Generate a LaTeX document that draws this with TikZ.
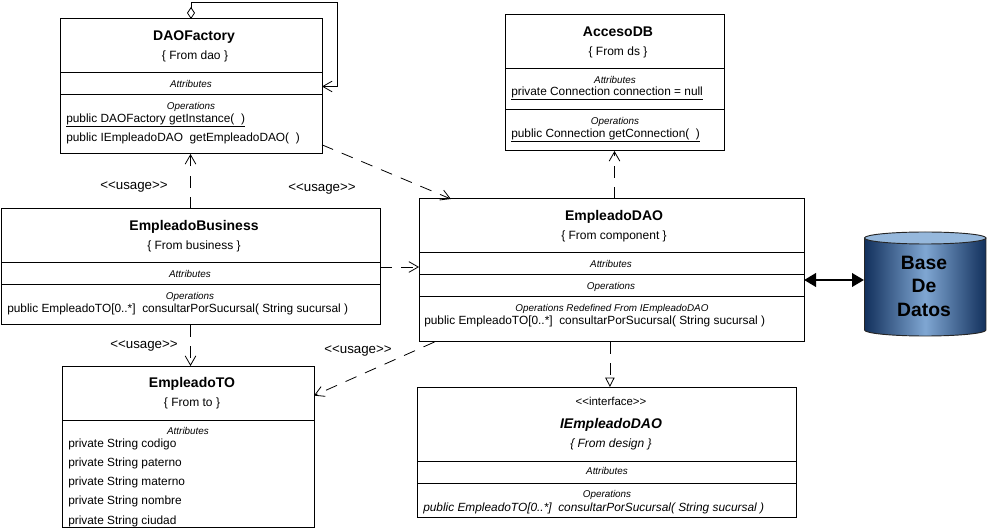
\documentclass[tikz,border=0pt]{standalone}
\usepackage{fontspec}
\setmainfont{Liberation Sans}
\usepackage{xcolor}
\usetikzlibrary{arrows.meta}
\definecolor{dbdark}{HTML}{12305C}
\definecolor{dbmid}{HTML}{7FA6D2}
\definecolor{dbtop}{HTML}{96B8DC}
\tikzset{
  umlbox/.style={draw,rectangle,line width=0.75pt,inner sep=0pt,outer sep=0pt},
  classname/.style={font=\fontsize{10.5}{12}\selectfont\bfseries,inner sep=0pt,text height=1.5ex,text depth=.25ex},
  classfrom/.style={font=\fontsize{9}{11}\selectfont,inner sep=0pt,text height=1.5ex,text depth=.25ex},
  sectionname/.style={font=\fontsize{7.4}{8}\selectfont\itshape,inner sep=0pt,text height=1.5ex,text depth=.25ex},
  member/.style={font=\fontsize{8.9}{10}\selectfont,anchor=west,inner sep=0pt,text height=1.5ex,text depth=.25ex},
  usagelabel/.style={font=\fontsize{10}{12}\selectfont,inner sep=0pt},
  dep/.style={line width=0.6pt,dash pattern=on 9pt off 7pt,-{Straight Barb[length=7pt,width=8pt]}},
  real/.style={line width=0.6pt,dash pattern=on 9pt off 7pt,-{Triangle[open,length=7pt,width=7pt]}}
}
\begin{document}
\begin{tikzpicture}[x=0.75pt,y=-0.75pt]
\useasboundingbox (0,0) rectangle (987,530);
% DAOFactory
\node[umlbox,minimum width=196.5pt,minimum height=101.25pt](daofactory) at (191,86.5){};
\draw[line width=0.75pt](daofactory.west |- 0,72.5)--(daofactory.east |- 0,72.5)
(daofactory.west |- 0,95)--(daofactory.east |- 0,95);
\node[classname](dftitle) at (194,36){DAOFactory};
\node[classfrom](dffrom) at (195,55){\{ From dao \}};
\node[sectionname](dfattr) at (191,83){Attributes};
\node[sectionname](dfops) at (191,105){Operations};
\node[member](dfget) at (66,118){\underline{public DAOFactory~getInstance(~~)}};
\node[member](dfemp) at (66,137){public IEmpleadoDAO~~getEmpleadoDAO(~~)};
% EmpleadoBusiness
\node[umlbox,minimum width=284.25pt,minimum height=87pt](empleadobusiness) at (190.5,267){};
\draw[line width=0.75pt](empleadobusiness.west |- 0,263)--(empleadobusiness.east |- 0,263)
(empleadobusiness.west |- 0,285)--(empleadobusiness.east |- 0,285);
\node[classname](ebtitle) at (194,226){EmpleadoBusiness};
\node[classfrom](ebfrom) at (194,245){\{ From business \}};
\node[sectionname](ebattr) at (190,273){Attributes};
\node[sectionname](ebops) at (190,295){Operations};
\node[member](ebcons) at (7,308){public EmpleadoTO[0..*]~~consultarPorSucursal( String sucursal )};
% EmpleadoTO
\node[umlbox,minimum width=189pt,minimum height=120.75pt](empleadoto) at (188,446.5){};
\draw[line width=0.75pt](empleadoto.west |- 0,420)--(empleadoto.east |- 0,420);
\node[classname](totitle) at (192,383){EmpleadoTO};
\node[classfrom](tofrom) at (192,402){\{ From to \}};
\node[sectionname](toattr) at (188,430){Attributes};
\node[member](tocodigo) at (68,443){private String codigo};
\node[member](topaterno) at (68,462){private String paterno};
\node[member](tomaterno) at (68,481){private String materno};
\node[member](tonombre) at (68,500){private String nombre};
\node[member](tociudad) at (68,520){private String ciudad};
% AccesoDB
\node[umlbox,minimum width=164.25pt,minimum height=102pt](accesodb) at (614.5,83){};
\draw[line width=0.75pt](accesodb.west |- 0,68.5)--(accesodb.east |- 0,68.5)
(accesodb.west |- 0,110)--(accesodb.east |- 0,110);
\node[classname](adtitle) at (618,32){AccesoDB};
\node[classfrom](adfrom) at (618,51){\{ From ds \}};
\node[sectionname](adattr) at (615,79){Attributes};
\node[member](adconn) at (511,91){\underline{private Connection connection = null}};
\node[sectionname](adops) at (615,120){Operations};
\node[member](adget) at (511,133){\underline{public Connection~getConnection(~~)}};
% EmpleadoDAO
\node[umlbox,minimum width=288.75pt,minimum height=107.25pt](empleadodao) at (611.5,270.5){};
\draw[line width=0.75pt](empleadodao.west |- 0,253)--(empleadodao.east |- 0,253)
(empleadodao.west |- 0,275)--(empleadodao.east |- 0,275)
(empleadodao.west |- 0,297)--(empleadodao.east |- 0,297);
\node[classname](edtitle) at (614,216){EmpleadoDAO};
\node[classfrom](edfrom) at (614,235){\{ From component \}};
\node[sectionname](edattr) at (611,263){Attributes};
\node[sectionname](edops) at (611,285){Operations};
\node[sectionname](edredef) at (612,307){Operations Redefined From IEmpleadoDAO};
\node[member](edcons) at (424,320){public EmpleadoTO[0..*]~~consultarPorSucursal( String sucursal )};
% IEmpleadoDAO
\node[umlbox,minimum width=284.25pt,minimum height=97.5pt](iempleadodao) at (606.5,452){};
\draw[line width=0.75pt](iempleadodao.west |- 0,461)--(iempleadodao.east |- 0,461)
(iempleadodao.west |- 0,483)--(iempleadodao.east |- 0,483);
\node[classfrom,font=\fontsize{8.6}{10}\selectfont](idstereo) at (611,401){<{}<interface>{}>};
\node[classname,font=\fontsize{10.5}{12}\selectfont\bfseries\itshape](idtitle) at (611,424){IEmpleadoDAO};
\node[classfrom,font=\fontsize{9}{11}\selectfont\itshape](idfrom) at (611,443){\{ From design \}};
\node[sectionname](idattr) at (607,470.5){Attributes};
\node[sectionname](idops) at (607,493){Operations};
\node[member,font=\fontsize{8.9}{10}\selectfont\itshape](idcons) at (423,507){public EmpleadoTO[0..*]~~consultarPorSucursal( String sucursal )};
% Base De Datos
\path[draw=black!85,line width=0.7pt,left color=dbdark,right color=dbdark,middle color=dbmid]
(864.5,238)--(864.5,330) arc [start angle=180,end angle=0,x radius=60.75,y radius=6]--(986,238)--cycle;
\draw[draw=black!85,line width=0.7pt,fill=dbtop](925.25,238) ellipse [x radius=60.75,y radius=6];
\node[font=\fontsize{14.5}{17.6}\selectfont\bfseries,align=center,inner sep=0pt](basedatos) at (924,286){Base\\De\\Datos};
% connectors
\coordinate (loopcorner) at (337,2.5);
\coordinate (dbport) at (864,280);
\draw[line width=0.6pt,{Diamond[open,length=9pt,width=6pt]}-{Straight Barb[length=7pt,width=8pt]}](daofactory.north) |- (loopcorner) |- (daofactory.east);
\draw[dep](empleadobusiness.north)--(empleadobusiness.north |- daofactory.south);
\draw[dep](daofactory.-24)--(empleadodao.156.5);
\draw[dep](empleadobusiness.east)--(empleadobusiness.east -| empleadodao.west);
\draw[dep](empleadobusiness.south)--(empleadobusiness.south |- empleadoto.north);
\draw[dep](empleadodao.202.4)--(empleadoto.22.8);
\draw[dep](accesodb.south |- empleadodao.north)--(accesodb.south);
\draw[real](empleadodao.south -| iempleadodao.87.8)--(iempleadodao.87.8);
\draw[line width=2pt,{Triangle[length=9pt,width=10pt]}-{Triangle[length=9pt,width=10pt]}](empleadodao.east |- dbport)--(dbport);
% usage labels
\node[usagelabel](usagea) at (134,187){<{}<usage>{}>};
\node[usagelabel](usageb) at (322,189){<{}<usage>{}>};
\node[usagelabel](usagec) at (144,346){<{}<usage>{}>};
\node[usagelabel](usaged) at (358,351){<{}<usage>{}>};
\end{tikzpicture}
\end{document}
